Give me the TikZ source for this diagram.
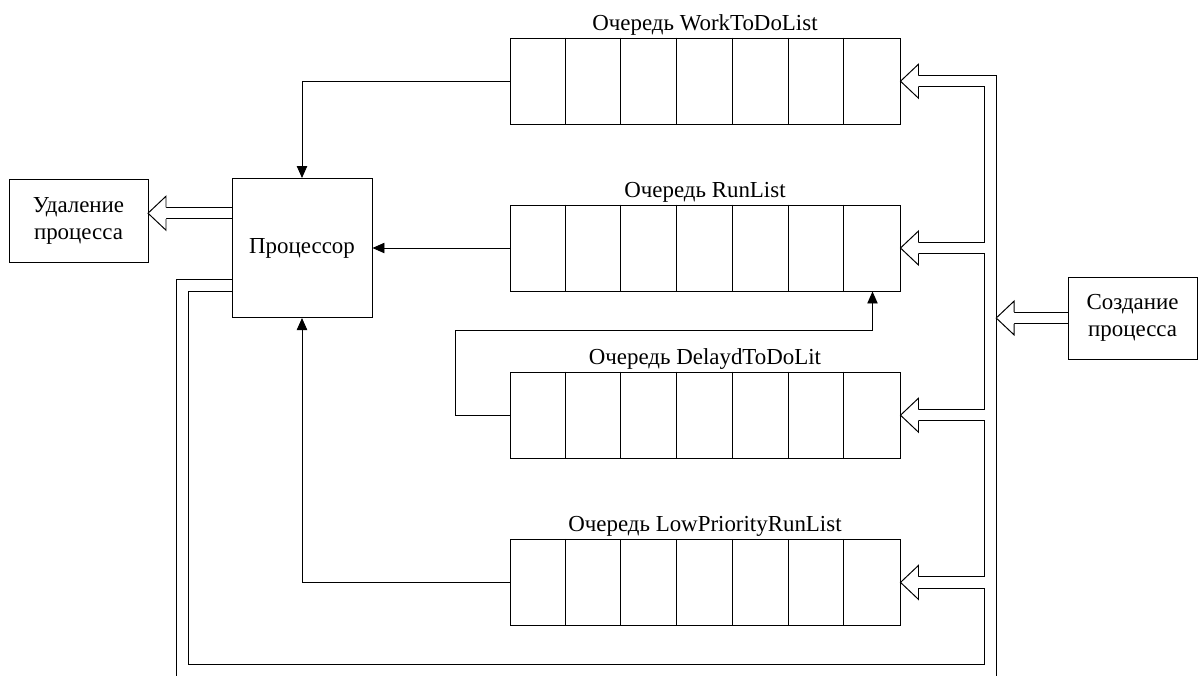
\documentclass[tikz,border=0pt]{standalone}
\usepackage{fontspec}
\setmainfont{Liberation Serif}
\usetikzlibrary{arrows.meta,backgrounds}

\tikzset{
  box/.style={draw, line width=0.7pt, align=center, inner sep=0pt},
  queue/.style={draw, line width=0.7pt, minimum width=9.75cm, minimum height=2.15cm, inner sep=0pt},
  qname/.style={above, inner sep=1.5pt},
  flow/.style={line width=0.7pt, -{Triangle[length=3mm,width=2.6mm]}},
  pipe/.style={line width=0.7pt, double, double distance=7.5pt},
  hhead/.pic={\filldraw[line width=0.7pt, fill=white] (0.45,0.145) -- (0.45,0.425) -- (0,0) -- (0.45,-0.425) -- (0.45,-0.145);}
}

\begin{document}
\begin{tikzpicture}[font=\fontsize{16.3}{19.2}\selectfont]
\useasboundingbox (0,0) rectangle (29.95,-16.875);

\node (proc) at (7.55,-6.2) [box, minimum width=3.5cm, minimum height=3.475cm]{Процессор};
\node (del) at (1.9625,-5.5125) [box, minimum width=3.475cm, minimum height=2.075cm]{Удаление\\процесса};
\node (cre) at (28.315,-7.95) [box, minimum width=3.23cm, minimum height=2.05cm]{Создание\\процесса};

% queues, seven cells each
\node (q1) at (17.625,-2.03) [queue]{};
\node (q2) at (17.625,-6.2) [queue]{};
\node (q3) at (17.625,-10.38) [queue]{};
\node (q4) at (17.625,-14.56) [queue]{};
\foreach \q in {q1,q2,q3,q4}
  \foreach \i in {1,...,6}
    \draw [line width=0.7pt] ([xshift=\i*1.393cm]\q.north west) -- ([xshift=\i*1.393cm]\q.south west);

\node (q1-name) at (q1.north) [qname]{Очередь WorkToDoList};
\node (q2-name) at (q2.north) [qname]{Очередь RunList};
\node (q3-name) at (q3.north) [qname]{Очередь DelaydToDoLit};
\node (q4-name) at (q4.north) [qname]{Очередь LowPriorityRunList};

\draw [flow] (q1.west) -| (proc.north);
\draw [flow] (q2.west) -- (proc.east);
\draw [flow] (q4.west) -| (proc.south);
\draw [flow] (q3.west) -| ++(-1.35,2.13) -| ([xshift=-0.7cm]q2.south east);

% hollow arrows go under the boxes
\begin{pgfonlayer}{background}
\draw [pipe] ([yshift=-0.94cm]proc.west) -| (4.56,-16.76) -| (24.76,-2.03) -- ([xshift=4.5mm]q1.east)
  ([xshift=4.5mm]q2.east) -- (24.76,-6.2)
  ([xshift=4.5mm]q3.east) -- (24.76,-10.38)
  ([xshift=4.5mm]q4.east) -- (24.76,-14.56);
\draw [pipe] ([yshift=0.87cm]proc.west) -- (4.15,-5.33);
\draw [pipe] (cre.west) -- (25.35,-7.95);

\pic at (q1.east) {hhead};
\pic at (q2.east) {hhead};
\pic at (q3.east) {hhead};
\pic at (q4.east) {hhead};
\pic at (3.7,-5.33) {hhead};
\pic at (24.905,-7.95) {hhead};
\end{pgfonlayer}

\end{tikzpicture}
\end{document}
